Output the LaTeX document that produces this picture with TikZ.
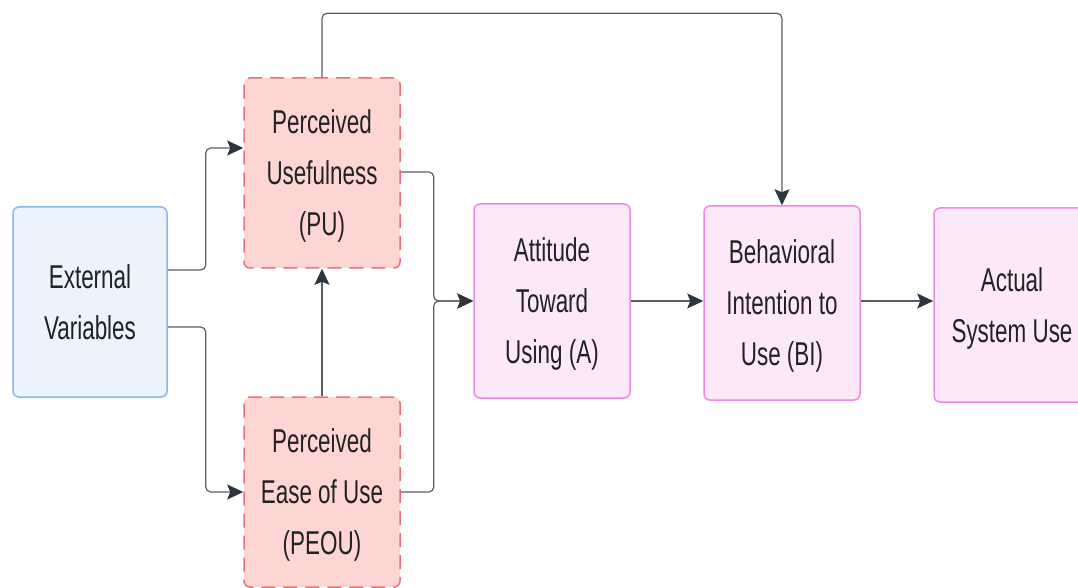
\documentclass[tikz,border=0pt]{standalone}
\usepackage{fontspec}
\setmainfont{Liberation Sans}[FakeStretch=0.68]
\usepackage{xcolor}
\usetikzlibrary{arrows.meta, positioning}

\definecolor{extfill}{HTML}{EBF3FD}
\definecolor{extdraw}{HTML}{86B9EC}
\definecolor{perfill}{HTML}{FDD6D4}
\definecolor{perdraw}{HTML}{E8717D}
\definecolor{behfill}{HTML}{FCE8F8}
\definecolor{behdraw}{HTML}{EC8AE4}
\definecolor{linegray}{HTML}{5A5E63}
\definecolor{tipdark}{HTML}{2E353D}
\definecolor{txt}{HTML}{222222}

\begin{document}
\begin{tikzpicture}[
  x=1pt, y=1pt,
  box/.style={rectangle, rounded corners=6pt, line width=1.5pt, align=center,
              minimum width=156pt, minimum height=190pt, inner sep=0pt,
              text depth=0pt, text=txt, font=\fontsize{33}{51}\selectfont},
  extbox/.style={box, fill=extfill, draw=extdraw, minimum width=154pt},
  perbox/.style={box, fill=perfill, draw=perdraw, dash pattern=on 14pt off 8pt},
  behbox/.style={box, fill=behfill, draw=behdraw, minimum height=194pt},
  arr/.style={-{Stealth[length=16pt, width=15pt, inset=3pt, color=tipdark]},
              line width=1.2pt, draw=linegray, rounded corners=5pt}
]
\useasboundingbox (0,0) rectangle (1078,587);
\clip (0,0) rectangle (1078,587);

\node[extbox] (ext)  at (90,285)   {External\\Variables};
\node[perbox] (pu)   at (322,414)  {Perceived\\Usefulness\\(PU)};
\node[perbox] (peou) at (322,95)   {Perceived\\Ease of Use\\(PEOU)};
\node[behbox] (att)  at (552,286)  {Attitude\\Toward\\Using (A)};
\node[behbox] (bi)   at (782,284)  {Behavioral\\Intention to\\Use (BI)};
\node[behbox] (asu)  at (1012,282) {Actual\\System Use};

\draw[arr] ([yshift=32pt]ext.east) -- ++(38,0) |- ([yshift=25pt]pu.west);
\draw[arr] ([yshift=-25pt]ext.east) -- ++(38,0) |- (peou.west);
\draw[arr] (peou.north) -- (pu.north |- pu.south);
\draw[arr] ([yshift=1pt]pu.east) -- ++(33,0) |- (att.west);
\draw[arr] (peou.east) -- ++(33,0) |- (att.west);
\draw[arr] (att.east) -- (bi.west |- att.east);
\draw[arr] (bi.east |- att.east) -- (asu.west |- att.east);
\draw[arr] (pu.north) -- ++(0,64) -| (bi.north);
\end{tikzpicture}
\end{document}
